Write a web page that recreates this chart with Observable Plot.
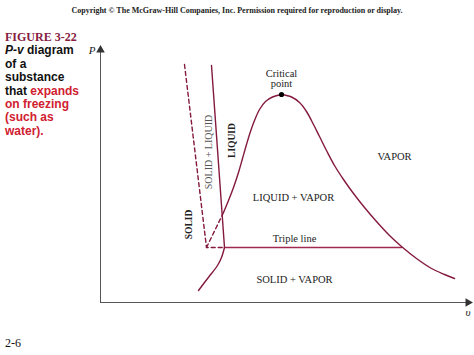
<!DOCTYPE html>
<html><head><meta charset="utf-8">
<script src="https://cdn.jsdelivr.net/npm/d3@7"></script>
<script src="https://cdn.jsdelivr.net/npm/@observablehq/plot@0.6"></script>
<style>
body{margin:0;background:#fff;}
#wrap{position:relative;width:474px;height:355px;overflow:hidden;background:#fff;}
#chart{position:absolute;left:0;top:0;}
.copy{position:absolute;left:0;width:474px;top:6px;text-align:center;font-family:"Liberation Serif",serif;font-weight:bold;font-size:8px;line-height:10px;color:#222;white-space:nowrap;}
.cap{position:absolute;left:5px;top:31px;font-family:"Liberation Sans",Arial,sans-serif;font-weight:bold;font-size:12px;line-height:13.4px;color:#111;white-space:nowrap;}
.cap .fig{font-family:"Liberation Serif",serif;color:#86203f;font-size:12px;}
.cap .red{color:#d0202f;}
.page{position:absolute;left:5px;top:336px;font-family:"Liberation Serif",serif;font-size:12px;line-height:14px;color:#111;}
</style></head><body>
<div id="wrap">
<div id="chart"></div>
<div class="copy">Copyright © The McGraw-Hill Companies, Inc. Permission required for reproduction or display.</div>
<div class="cap"><span class="fig">FIGURE 3-22</span><br><i>P-v</i> diagram<br>of a<br>substance<br>that <span class="red">expands</span><br><span class="red">on freezing</span><br><span class="red">(such as</span><br><span class="red">water).</span></div>
<div class="page">2-6</div>
</div>
<script>
// Axis extents (arbitrary units of specific volume v and pressure P)
const vMax = 37;
const pMax = 25;

// Critical point
const criticalPoint = [[18.1, 20.8]];

// Saturated-liquid curve (solid part), from critical point down
const satLiquid = [[18.1,20.8],[17.2,20.55],[16.5,20.1],[15.9,19.3],[15.4,18.2],[15.0,17.1],[14.6,15.8],[14.2,14.4],[13.8,13.0],[13.3,11.5],[12.8,10.2],[12.3,9.0]];
// Dashed extension of the saturated-liquid curve
const satLiquidDashed = [[12.3,9.0],[10.6,5.5]];
// Saturated-vapor curve
const satVapor = [[18.1,20.8],[19.1,20.55],[19.9,20.0],[20.6,19.1],[21.3,17.8],[21.9,16.6],[22.6,15.2],[23.4,13.7],[24.3,12.3],[25.3,10.9],[26.4,9.5],[27.6,8.1],[28.9,6.7],[30.1,5.6],[31.6,4.4],[33.1,3.4],[34.4,2.8],[35.4,2.4]];
// Freezing line (solid boundary of SOLID + LIQUID)
const freezingLine = [[11.1,23.7],[12.4,5.5]];
// Dashed boundary (ordinary substance) down to the triple line
const dashedBoundary = [[8.4,23.8],[10.6,5.5],[12.4,5.5]];
// Sublimation curve below the triple line
const sublimation = [[9.8,1.2],[10.4,2.0],[11.1,2.9],[11.7,3.7],[12.1,4.5],[12.4,5.5]];
// Triple line
const tripleLine = [[12.4,5.5],[30.1,5.5]];

// Labels
const regionLabels = [
  {text:"LIQUID + VAPOR", v:19.3, P:10.45},
  {text:"Triple line", v:19.4, P:6.35},
  {text:"SOLID + VAPOR", v:19.4, P:2.3},
  {text:"VAPOR", v:29.4, P:14.55}
];
const criticalLabel = [{text:"Critical\npoint", v:18.1, P:22.35}];
const verticalLabels = [{text:"SOLID + LIQUID", v:10.85, P:15.05}];
const verticalBoldLabels = [
  {text:"LIQUID", v:13.1, P:16.2},
  {text:"SOLID", v:8.85, P:7.8}
];
const axisLabels = [
  {text:"P", v:-0.85, P:25.2},
  {text:"υ", v:36.75, P:-0.95}
];

const curve = "#84193f";
const tri = "#a3284f";
const axisCol = "#555";
const serif = "Liberation Serif";

const chart = Plot.plot({
  width: 474,
  height: 355,
  marginLeft: 100,
  marginRight: 4,
  marginTop: 52,
  marginBottom: 53,
  x: {domain: [0, vMax], axis: null},
  y: {domain: [0, pMax], axis: null},
  style: {background: "transparent"},
  marks: [
    // axes
    Plot.ruleX([0], {y1: 0, y2: pMax, stroke: axisCol, strokeWidth: 1}),
    Plot.ruleY([0], {x1: 0, x2: vMax - 0.1, stroke: axisCol, strokeWidth: 1}),
    Plot.dot([[0, pMax + 0.25]], {symbol: "triangle", r: 3.2, fill: "#333", stroke: "none"}),
    Plot.dot([[vMax - 0.25, 0]], {symbol: "triangle", r: 3.2, fill: "#333", stroke: "none", rotate: 90}),
    // curves
    Plot.line(dashedBoundary, {stroke: curve, strokeWidth: 1.4, strokeDasharray: "4,3"}),
    Plot.line(satLiquidDashed, {stroke: curve, strokeWidth: 1.4, strokeDasharray: "4,3"}),
    Plot.line(freezingLine, {stroke: curve, strokeWidth: 1.4}),
    Plot.line(tripleLine, {stroke: tri, strokeWidth: 1.4}),
    Plot.line(sublimation, {stroke: curve, strokeWidth: 1.4, curve: "catmull-rom"}),
    Plot.line(satLiquid, {stroke: curve, strokeWidth: 1.4, curve: "catmull-rom"}),
    Plot.line(satVapor, {stroke: curve, strokeWidth: 1.4, curve: "catmull-rom"}),
    Plot.dot(criticalPoint, {r: 2.6, fill: "#000", stroke: "none"}),
    // labels
    Plot.text(regionLabels, {x: "v", y: "P", text: "text", fontFamily: serif, fontSize: 10.5, fill: "#222"}),
    Plot.text(criticalLabel, {x: "v", y: "P", text: "text", fontFamily: serif, fontSize: 10.5, fill: "#222", lineHeight: 0.95}),
    Plot.text(verticalLabels, {x: "v", y: "P", text: "text", fontFamily: serif, fontSize: 10, fill: "#555", rotate: -90}),
    Plot.text(verticalBoldLabels, {x: "v", y: "P", text: "text", fontFamily: serif, fontSize: 9.5, fontWeight: "bold", fill: "#222", rotate: -90}),
    Plot.text(axisLabels, {x: "v", y: "P", text: "text", fontFamily: serif, fontSize: 11, fontStyle: "italic", fill: "#222"})
  ]
});
document.getElementById("chart").appendChild(chart);
</script>
</body></html>
